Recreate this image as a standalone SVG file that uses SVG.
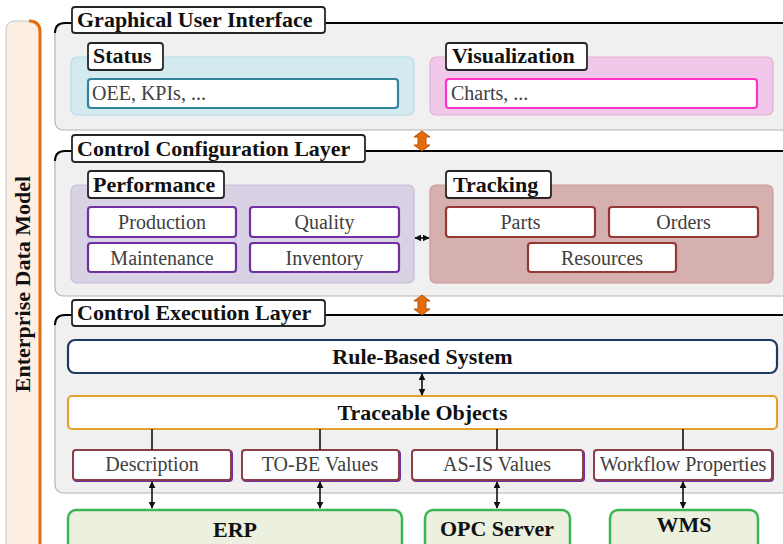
<svg xmlns="http://www.w3.org/2000/svg" width="783" height="544" viewBox="0 0 783 544">
<defs>
<style>
.t{font-family:"Liberation Serif","DejaVu Serif",serif;font-weight:bold;font-size:22px;fill:#111}
.r{font-family:"Liberation Serif","DejaVu Serif",serif;font-size:20px;fill:#404040}
.layer{fill:#f0f0f0;stroke:#b4b4b4;stroke-width:1.2}
.topline{fill:none;stroke:#000;stroke-width:2}
.tab{fill:#fff;stroke:#262626;stroke-width:1.8}
.pp{fill:#fff;stroke:#7030a0;stroke-width:2.2}
.tr{fill:#fff;stroke:#953735;stroke-width:2.2}
.ex{fill:#fff;stroke:#8a3f48;stroke-width:2}
.exs{fill:none;stroke:#7030a0;stroke-width:2}
.bot{fill:#ebf1de;stroke:#3cb554;stroke-width:2.5}
.ln{stroke:#111;stroke-width:1.6;fill:none}
.oa{fill:#e46c0a;stroke:#b35409;stroke-width:1}
</style>
<marker id="ah" viewBox="0 0 10 10" refX="9" refY="5" markerWidth="7" markerHeight="7" markerUnits="userSpaceOnUse" orient="auto-start-reverse">
<path d="M0,0 L10,5 L0,10 z" fill="#111"/>
</marker>
</defs>

<g id="enterprise-data-model">
<rect x="6" y="21" width="34" height="540" rx="8" fill="#fdeee4" stroke="#c4c4c4" stroke-width="1"/>
<path d="M29,21 Q40,21 40,32 V544" fill="none" stroke="#e46c0a" stroke-width="3"/>
<text class="t" transform="translate(30,284) rotate(-90)" text-anchor="middle">Enterprise Data Model</text>
</g>

<g id="gui-layer">
<rect class="layer" x="55" y="23" width="740" height="107" rx="8"/>
<path class="topline" d="M55,33 Q55,23 65,23 H783"/>
<rect class="tab" x="72" y="7" width="253" height="26" rx="3"/>
<text class="t" x="77" y="27">Graphical User Interface</text>
</g>

<g id="status">
<rect x="71" y="57" width="343" height="58" rx="6" fill="#d3eaf0" stroke="#b6dde8" stroke-width="1.2"/>
<rect class="tab" x="88" y="43" width="75" height="27" rx="3"/>
<text class="t" x="93" y="63">Status</text>
<rect x="88" y="79" width="310" height="29" rx="3" fill="#fff" stroke="#31849b" stroke-width="2.2"/>
<text class="r" x="92" y="100">OEE, KPIs, ...</text>
</g>

<g id="visualization">
<rect x="430" y="57" width="343" height="58" rx="6" fill="#f2c8ea" stroke="#e0b0d2" stroke-width="1.2"/>
<rect class="tab" x="446" y="43" width="141" height="27" rx="3"/>
<text class="t" x="452" y="63">Visualization</text>
<rect x="446" y="79" width="311" height="29" rx="3" fill="#fff" stroke="#ff33cc" stroke-width="2.2"/>
<text class="r" x="451" y="100">Charts, ...</text>
</g>

<g id="config-layer">
<rect class="layer" x="55" y="151" width="740" height="145" rx="8"/>
<path class="topline" d="M55,161 Q55,151 65,151 H783"/>
<rect class="tab" x="72" y="135" width="293" height="27" rx="3"/>
<text class="t" x="77" y="156">Control Configuration Layer</text>
</g>

<g id="performance">
<rect x="71" y="185" width="343" height="98" rx="6" fill="#d9d2e5" stroke="#c7bcd9" stroke-width="1.2"/>
<rect class="tab" x="88" y="171" width="136" height="27" rx="3"/>
<text class="t" x="93" y="192">Performance</text>
</g>
<g id="production"><rect class="pp" x="88" y="207" width="148" height="30" rx="3"/><text class="r" x="162" y="229" text-anchor="middle">Production</text></g>
<g id="quality"><rect class="pp" x="250" y="207" width="149" height="30" rx="3"/><text class="r" x="324.5" y="229" text-anchor="middle">Quality</text></g>
<g id="maintenance"><rect class="pp" x="88" y="243" width="148" height="29" rx="3"/><text class="r" x="162" y="265" text-anchor="middle">Maintenance</text></g>
<g id="inventory"><rect class="pp" x="250" y="243" width="149" height="29" rx="3"/><text class="r" x="324.5" y="265" text-anchor="middle">Inventory</text></g>

<g id="tracking">
<rect x="430" y="185" width="343" height="98" rx="6" fill="#d5b0ae" stroke="#c99a98" stroke-width="1.2"/>
<rect class="tab" x="446" y="171" width="105" height="27" rx="3"/>
<text class="t" x="453" y="192">Tracking</text>
</g>
<g id="parts"><rect class="tr" x="446" y="207" width="149" height="30" rx="3"/><text class="r" x="520.5" y="229" text-anchor="middle">Parts</text></g>
<g id="orders"><rect class="tr" x="609" y="207" width="149" height="30" rx="3"/><text class="r" x="683.5" y="229" text-anchor="middle">Orders</text></g>
<g id="resources"><rect class="tr" x="528" y="243" width="148" height="29" rx="3"/><text class="r" x="602" y="265" text-anchor="middle">Resources</text></g>

<g id="execution-layer">
<rect class="layer" x="55" y="315" width="740" height="178" rx="8"/>
<path class="topline" d="M55,325 Q55,315 65,315 H783"/>
<rect class="tab" x="72" y="300" width="253" height="26" rx="3"/>
<text class="t" x="77" y="320">Control Execution Layer</text>
</g>

<g id="rule-based-system">
<rect x="68" y="340" width="709" height="33" rx="7" fill="#fff" stroke="#1f3864" stroke-width="2.2"/>
<text class="t" x="422.5" y="364" text-anchor="middle">Rule-Based System</text>
</g>
<g id="traceable-objects">
<rect x="68" y="396" width="709" height="33" rx="4" fill="#fff" stroke="#e3a02e" stroke-width="2.2"/>
<text class="t" x="422.5" y="420" text-anchor="middle">Traceable Objects</text>
</g>

<g id="description"><rect class="exs" x="74" y="451" width="158" height="30" rx="3"/><rect class="ex" x="73" y="450" width="158" height="30" rx="3"/><text class="r" x="152" y="471" text-anchor="middle">Description</text></g>
<g id="to-be-values"><rect class="exs" x="243" y="451" width="157" height="30" rx="3"/><rect class="ex" x="242" y="450" width="157" height="30" rx="3"/><text class="r" x="320" y="471" text-anchor="middle">TO-BE Values</text></g>
<g id="as-is-values"><rect class="exs" x="413" y="451" width="171" height="30" rx="3"/><rect class="ex" x="412" y="450" width="171" height="30" rx="3"/><text class="r" x="497" y="471" text-anchor="middle">AS-IS Values</text></g>
<g id="workflow-properties"><rect class="exs" x="595" y="451" width="178" height="30" rx="3"/><rect class="ex" x="594" y="450" width="178" height="30" rx="3"/><text class="r" x="683" y="471" text-anchor="middle">Workflow Properties</text></g>

<g id="erp"><rect class="bot" x="68" y="510" width="334" height="50" rx="8"/><text class="t" x="235" y="537" text-anchor="middle">ERP</text></g>
<g id="opc-server"><rect class="bot" x="425" y="510" width="145" height="50" rx="8"/><text class="t" x="497" y="536" text-anchor="middle">OPC Server</text></g>
<g id="wms"><rect class="bot" x="610" y="510" width="148" height="50" rx="8"/><text class="t" x="684" y="532" text-anchor="middle">WMS</text></g>

<g id="connectors">
<path class="oa" d="M422,131 L430,137 L426,137 L426,145 L430,145 L422,151 L414,145 L418,145 L418,137 L414,137 Z"/>
<path class="oa" d="M422,295 L430,301 L426,301 L426,309 L430,309 L422,315 L414,309 L418,309 L418,301 L414,301 Z"/>
<line class="ln" x1="415" y1="238" x2="429" y2="238" marker-start="url(#ah)" marker-end="url(#ah)"/>
<line class="ln" x1="422" y1="374" x2="422" y2="395" marker-start="url(#ah)" marker-end="url(#ah)"/>
<line class="ln" x1="152" y1="429" x2="152" y2="450"/>
<line class="ln" x1="320" y1="429" x2="320" y2="450"/>
<line class="ln" x1="497" y1="429" x2="497" y2="450"/>
<line class="ln" x1="683" y1="429" x2="683" y2="450"/>
<line class="ln" x1="152" y1="482" x2="152" y2="508" marker-start="url(#ah)" marker-end="url(#ah)"/>
<line class="ln" x1="320" y1="482" x2="320" y2="508" marker-start="url(#ah)" marker-end="url(#ah)"/>
<line class="ln" x1="497" y1="482" x2="497" y2="508" marker-start="url(#ah)" marker-end="url(#ah)"/>
<line class="ln" x1="683" y1="482" x2="683" y2="508" marker-start="url(#ah)" marker-end="url(#ah)"/>
</g>
</svg>
